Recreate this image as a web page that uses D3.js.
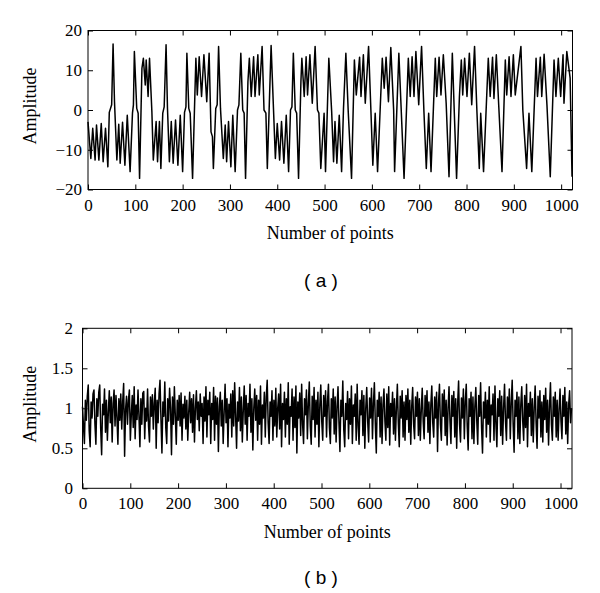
<!DOCTYPE html>
<html>
<head>
<meta charset="utf-8">
<script src="https://cdn.jsdelivr.net/npm/d3@7"></script>
<style>
  body { margin: 0; background: #fff; }
  svg { display: block; }
</style>
</head>
<body>
<div id="chart"></div>
<script>
// panel (a): [sample index, amplitude] (turning points)
const seriesA = [
  [0,-3],[6,-12.2],[10,-4.6],[15,-12.6],[18,-3.8],[23,-12.6],[28,-3.4],[32,-13],[37,-4.6],[42,-14.3],
  [45,-0.6],[50,1.3],[53,16.6],[56,2.1],[61,-12.6],[65,-3.6],[68,-13.4],[73,-3.1],[78,-13.9],[83,-1.3],
  [89,-15.5],[94,-0.8],[96,1.3],[98,14.7],[103,0.4],[106,-0.8],[109,-17.2],[114,10.5],[117,13],[121,6.3],
  [123,12.6],[127,3.4],[130,13],[135,-0.4],[138,-12.6],[144,-2.9],[147,-13],[151,-2.9],[154,-14.7],[158,-0.8],
  [161,0.8],[165,16.4],[168,0.4],[172,-13],[176,-2.9],[180,-13.4],[185,-2.5],[190,-13.9],[195,-1.3],[200,-15.5],
  [204,-0.6],[207,0.8],[209,14.3],[213,0.4],[216,-0.8],[221,-17.2],[228,13],[231,3.8],[235,13.4],[240,3.4],
  [245,13.9],[251,2.1],[256,14.3],[260,-5.5],[263,-6.7],[265,-14.7],[270,0.4],[273,1.3],[276,16],[280,0.4],
  [286,-12.2],[290,-3.8],[293,-13],[297,-2.9],[302,-14.3],[306,-1.3],[311,-15.5],[316,0],[319,1.3],[323,14.3],
  [327,0],[330,-0.8],[333,-17.2],[338,7.1],[341,13],[345,3.4],[350,13.4],[353,3.4],[359,13.9],[362,3.8],
  [368,16],[372,0],[376,-0.8],[379,-14.7],[387,16.2],[392,0.4],[396,-12.2],[400,-3.4],[405,-12.6],[409,-2.9],
  [414,-13.4],[419,-1.3],[424,-15.5],[428,0],[431,0.8],[434,14.3],[438,0],[441,-0.8],[445,-17.2],[450,7.1],
  [452,13],[457,3.4],[461,13.4],[464,3.8],[469,13.9],[474,1.7],[480,16],[485,0],[488,-0.8],[492,-14.7],
  [499,-0.8],[502,-15.5],[509,13],[515,-0.4],[519,-13],[522,-2.9],[526,-13.4],[531,-1.3],[536,-15.5],[540,0.4],
  [545,14.3],[550,-0.4],[557,-17.2],[563,12.6],[567,3.8],[574,13.3],[577,3.4],[582,13.9],[586,1.7],[593,16],
  [598,-0.4],[602,-13.9],[607,-0.8],[612,-15.5],[622,13],[626,5.5],[630,13.3],[635,2.1],[640,15.7],[646,0],
  [648,-15.5],[657,14.3],[662,0],[668,-17.2],[677,13],[681,3.4],[685,13.4],[689,3.4],[693,14.7],[699,1.3],
  [705,16],[710,-0.4],[715,-14.7],[720,-0.8],[725,-15.5],[734,13],[737,3.4],[742,13.3],[746,3.8],[751,13.9],
  [757,1.7],[763,-16.8],[770,14.3],[774,0],[779,-17.2],[785,3.4],[789,12.6],[792,3.8],[796,13],[801,3.4],
  [806,14.3],[811,1.3],[817,16],[822,-0.4],[827,-14.7],[830,-0.8],[836,-15.5],[846,13],[850,3.4],[855,13.3],
  [858,2.9],[863,13.9],[868,1.3],[875,-15.5],[882,12.6],[885,3.8],[890,13.4],[894,3.4],[899,13.9],[903,3.8],
  [915,16],[919,0],[927,-14.7],[932,-0.8],[938,-15.5],[947,13],[950,3.4],[956,13.3],[959,3.4],[964,14],
  [970,1.3],[977,-16.8],[985,12.6],[989,3.4],[994,13],[999,3.4],[1004,13.9],[1006,1.7],[1012,14.7],[1019,8],
  [1023,-16.8]
];

// panel (b): amplitude every second sample
const valuesB = [
  1.02,0.78,0.56,1.1,0.85,1.15,1.29,0.72,0.52,1.08,0.88,1.18,1.23,0.8,0.55,1.12,
  0.9,1.2,1.29,0.75,0.42,1.05,0.92,1.24,0.7,1.1,0.6,0.95,1.22,0.82,1.14,0.58,
  1.06,1.23,0.78,1.16,0.88,0.55,1.12,0.85,1.18,0.74,1.08,1.31,0.4,0.98,1.15,0.8,
  1.1,1.23,0.6,0.92,1.16,0.76,1.27,0.62,1.04,0.86,1.23,0.9,0.52,1.12,0.8,1.19,
  1.21,0.62,1.0,0.84,1.24,0.78,0.58,1.14,0.9,1.17,0.74,1.06,1.25,0.5,1.1,0.82,
  1.18,1.35,0.86,0.44,1.08,0.9,1.33,0.76,0.56,1.12,0.84,1.25,1.0,0.42,1.14,0.8,
  1.27,0.9,0.55,1.1,0.85,1.16,0.78,1.19,0.6,1.05,0.88,1.15,0.74,1.1,0.6,0.95,
  1.2,0.82,1.12,0.7,1.17,0.58,1.0,1.22,0.86,1.08,0.72,1.18,0.9,1.06,0.56,1.14,
  0.84,1.27,0.64,1.1,0.92,1.2,0.56,1.06,0.86,1.26,0.6,1.15,0.8,1.13,0.46,1.02,
  1.2,0.78,1.1,0.56,0.95,1.3,0.82,1.12,0.52,1.05,0.88,1.18,0.64,1.22,0.78,1.32,
  0.9,0.5,1.08,0.84,1.26,0.72,1.14,0.58,0.98,1.28,0.8,1.16,0.6,1.06,0.9,1.3,
  0.7,1.12,0.48,1.0,1.24,0.85,1.16,0.6,1.1,0.8,1.28,0.55,1.04,0.88,1.2,0.64,
  1.14,1.35,0.82,0.56,1.08,0.9,1.22,0.6,1.1,0.78,1.25,0.64,1.0,1.18,0.74,1.3,
  0.52,1.06,0.86,1.2,0.64,1.12,0.8,1.32,0.55,1.02,0.9,1.24,0.6,1.14,0.76,1.28,
  0.44,1.08,0.88,1.19,0.66,1.3,0.8,0.56,1.12,0.92,1.23,0.62,1.06,1.33,0.78,0.55,
  1.15,0.86,1.26,0.64,1.1,0.8,1.2,0.52,1.04,1.29,0.84,0.6,1.16,0.9,1.22,0.64,
  1.08,1.3,0.76,0.56,1.12,0.88,1.24,0.68,1.14,0.58,1.02,1.27,0.82,0.46,1.1,0.9,
  1.34,0.74,0.52,1.06,0.86,1.21,0.62,1.12,0.8,1.28,0.56,1.04,0.9,1.18,0.6,1.3,
  0.78,0.55,1.1,0.92,1.22,0.66,1.16,0.5,1.0,1.26,0.84,0.58,1.13,0.88,1.25,0.62,
  1.06,1.32,0.8,0.44,1.1,0.9,1.2,0.64,1.14,0.56,1.04,1.24,0.84,0.6,1.18,0.76,
  1.27,0.54,1.06,0.9,1.2,0.68,1.12,0.6,1.0,1.3,0.82,0.52,1.15,0.88,1.22,0.64,
  1.08,0.6,1.16,0.86,1.24,0.7,1.1,0.55,1.02,1.26,0.8,0.62,1.14,0.9,1.2,0.66,
  1.12,0.6,0.98,1.25,0.84,0.62,1.16,0.9,1.22,0.7,1.08,0.56,1.04,1.28,0.82,0.64,
  1.14,0.88,1.2,0.46,1.06,1.3,0.8,0.6,1.18,0.9,1.23,0.66,1.1,0.54,1.0,1.27,
  0.84,0.56,1.16,0.9,1.21,0.64,1.12,0.5,1.05,1.34,0.8,0.58,1.13,0.88,1.24,0.62,
  1.08,1.3,0.78,0.48,1.12,0.9,1.2,0.62,1.14,0.56,1.02,1.26,0.84,0.55,1.16,0.9,
  1.32,0.76,0.44,1.08,0.88,1.2,0.64,1.1,0.8,1.27,0.58,1.04,0.92,1.18,0.6,1.28,
  0.8,0.52,1.12,0.9,1.22,0.66,1.15,0.55,1.0,1.3,0.84,0.6,1.14,0.88,1.24,0.62,
  1.06,1.35,0.8,0.45,1.1,0.9,1.2,0.62,1.14,0.56,1.04,1.27,0.84,0.6,1.16,0.76,
  1.3,0.52,1.06,0.9,1.2,0.66,1.12,0.58,1.0,1.28,0.82,0.5,1.15,0.88,1.22,0.64,
  1.08,0.58,1.16,0.86,1.25,0.7,1.1,0.54,1.02,1.32,0.8,0.6,1.14,0.9,1.2,0.64,
  1.1,0.6,0.98,1.24,0.84,0.62,1.16,0.9,1.26,0.68,1.08,0.56,1.04,1.22,0.82,1.0
];

const xTicks = [0, 100, 200, 300, 400, 500, 600, 700, 800, 900, 1000];
const yTicksA = [-20, -10, 0, 10, 20];
const yTicksB = [0, 0.5, 1, 1.5, 2];

const width = 600, height = 593;
const serif = "'Liberation Serif', 'Times New Roman', serif";

const svg = d3.select("#chart").append("svg")
    .attr("width", width)
    .attr("height", height);

svg.append("rect").attr("width", width).attr("height", height).attr("fill", "#fff");

function drawPanel(cfg) {
    const x = d3.scaleLinear().domain([0, 1024]).range([cfg.left, cfg.right]);
    const y = d3.scaleLinear().domain(cfg.yDomain).range([cfg.bottom, cfg.top]);
    const g = svg.append("g");

    // inward ticks on all four sides, labels only bottom / left
    g.append("g")
        .attr("transform", `translate(0,${cfg.bottom})`)
        .call(d3.axisBottom(x).tickValues(xTicks).tickSize(-5).tickPadding(9).tickFormat(d3.format("d")))
        .call(styleAxis);
    g.append("g")
        .attr("transform", `translate(0,${cfg.top})`)
        .call(d3.axisTop(x).tickValues(xTicks).tickSize(-5).tickFormat(""))
        .call(styleAxis);
    g.append("g")
        .attr("transform", `translate(${cfg.left},0)`)
        .call(d3.axisLeft(y).tickValues(cfg.yTicks).tickSize(-5).tickPadding(cfg.yPad).tickFormat(cfg.yFormat))
        .call(styleAxis);
    g.append("g")
        .attr("transform", `translate(${cfg.right},0)`)
        .call(d3.axisRight(y).tickValues(cfg.yTicks).tickSize(-5).tickFormat(""))
        .call(styleAxis);

    const line = d3.line()
        .x((d) => x(d[0]))
        .y((d) => y(d[1]));

    g.append("path")
        .datum(cfg.data)
        .attr("fill", "none")
        .attr("stroke", "#000")
        .attr("stroke-width", cfg.lineWidth)
        .attr("stroke-linejoin", "round")
        .attr("d", line);

    g.append("rect")
        .attr("x", cfg.left)
        .attr("y", cfg.top)
        .attr("width", cfg.right - cfg.left)
        .attr("height", cfg.bottom - cfg.top)
        .attr("fill", "none")
        .attr("stroke", "#000")
        .attr("stroke-width", 1);

    g.append("text")
        .attr("x", (cfg.left + cfg.right) / 2)
        .attr("y", cfg.bottom + 49.5)
        .attr("text-anchor", "middle")
        .style("font-family", serif)
        .style("font-size", "18px")
        .text("Number of points");

    const cy = (cfg.top + cfg.bottom) / 2 - 4;
    g.append("text")
        .attr("transform", `translate(36,${cy}) rotate(-90)`)
        .attr("text-anchor", "middle")
        .style("font-family", serif)
        .style("font-size", "18px")
        .text("Amplitude");

    g.append("text")
        .attr("x", 321)
        .attr("y", cfg.captionY)
        .attr("text-anchor", "middle")
        .style("font-family", "'Liberation Sans', Arial, sans-serif")
        .style("font-size", "19px")
        .text(cfg.caption);
}

function styleAxis(sel) {
    sel.select(".domain").remove();
    sel.selectAll(".tick line").attr("stroke", "#000");
    sel.selectAll(".tick text")
        .attr("fill", "#000")
        .style("font-family", serif)
        .style("font-size", "17px");
}

drawPanel({
    left: 88, right: 572.5, top: 30.5, bottom: 189.5,
    yDomain: [-20, 20], yTicks: yTicksA, yPad: 6, yFormat: d3.format("d"),
    data: seriesA, lineWidth: 1.5, caption: "( a )", captionY: 287
});

drawPanel({
    left: 82.5, right: 572, top: 328.3, bottom: 488.3,
    yDomain: [0, 2], yTicks: yTicksB, yPad: 9.5, yFormat: (d) => String(d),
    data: valuesB.map((v, i) => [i * 1023 / (valuesB.length - 1), v]),
    lineWidth: 1.5, caption: "( b )", captionY: 584
});
</script>
</body>
</html>
